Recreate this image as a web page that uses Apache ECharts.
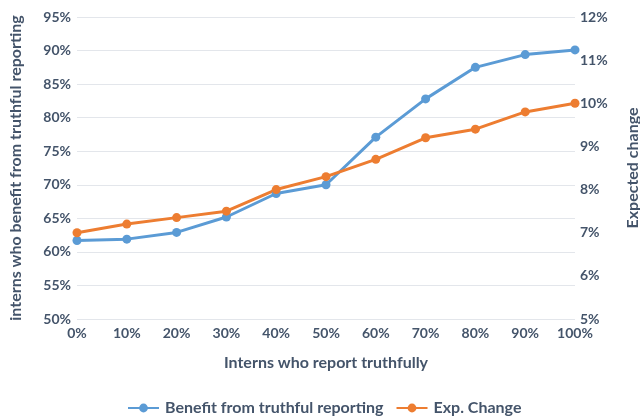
<!DOCTYPE html>
<html><head><meta charset="utf-8">
<script src="https://cdn.jsdelivr.net/npm/echarts@6/dist/echarts.min.js"></script>
<style>html,body{margin:0;padding:0;background:#fff}#c{width:640px;height:419px}</style>
</head><body><div id="c"></div>
<script>
const categories = ['0%','10%','20%','30%','40%','50%','60%','70%','80%','90%','100%'];
const benefit = [61.7, 61.9, 62.9, 65.2, 68.7, 70.0, 77.1, 82.8, 87.5, 89.4, 90.1];
const expChange = [7.0, 7.2, 7.35, 7.5, 8.0, 8.3, 8.7, 9.2, 9.4, 9.8, 10.0];
const seriesNames = ['Benefit from truthful reporting', 'Exp. Change'];
const txt = '#44546A';
const font = 'Lato';
const chart = echarts.init(document.getElementById('c'));
chart.setOption({
  animation: false,
  textStyle: {fontFamily: font},
  grid: {left: 77, right: 65, top: 17, bottom: 100, containLabel: false, outerBoundsMode: 'none'},
  legend: {
    bottom: -2, left: 122, itemWidth: 31, itemHeight: 11, itemGap: 12,
    textStyle: {color: txt, fontSize: 16, fontWeight: 'bold', fontFamily: font, padding: [0, 0, 0, 1]},
    data: seriesNames
  },
  xAxis: {
    type: 'category', data: categories, boundaryGap: false,
    name: 'Interns who report truthfully', nameLocation: 'middle', nameGap: 36,
    nameTextStyle: {color: txt, fontSize: 16, fontWeight: 'bold', fontFamily: font},
    axisLine: {show: false}, axisTick: {show: false},
    axisLabel: {color: txt, fontSize: 14, fontWeight: 'bold', margin: 7, fontFamily: font}
  },
  yAxis: [{
    type: 'value', min: 50, max: 95, interval: 5,
    name: 'interns who benefit from truthful reporting', nameLocation: 'middle', nameGap: 53,
    nameTextStyle: {color: txt, fontSize: 16, fontWeight: 'bold', fontFamily: font},
    axisLine: {show: false}, axisTick: {show: false},
    axisLabel: {color: txt, fontSize: 14, fontWeight: 'bold', formatter: '{value}%', margin: 6, fontFamily: font},
    splitLine: {lineStyle: {color: '#E3E6EB', width: 1}}
  }, {
    type: 'value', min: 5, max: 12, interval: 1,
    name: 'Expected change', nameLocation: 'middle', nameGap: 50, nameRotate: 90,
    nameTextStyle: {color: txt, fontSize: 16, fontWeight: 'bold', fontFamily: font},
    axisLine: {show: false}, axisTick: {show: false},
    axisLabel: {color: txt, fontSize: 14, fontWeight: 'bold', formatter: '{value}%', margin: 5, fontFamily: font},
    splitLine: {show: false}
  }],
  series: [{
    name: seriesNames[0], type: 'line', data: benefit, yAxisIndex: 0,
    symbol: 'circle', symbolSize: 9,
    lineStyle: {color: '#5B9BD5', width: 3}, itemStyle: {color: '#5B9BD5'}
  }, {
    name: seriesNames[1], type: 'line', data: expChange, yAxisIndex: 1,
    symbol: 'circle', symbolSize: 9,
    lineStyle: {color: '#ED7D31', width: 3}, itemStyle: {color: '#ED7D31'}
  }]
});
</script></body></html>
